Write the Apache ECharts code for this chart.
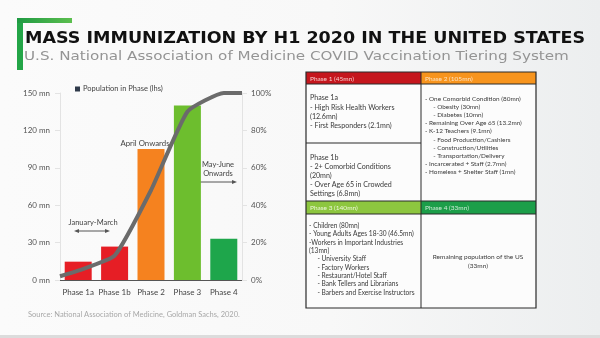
<!DOCTYPE html>
<html><head><meta charset="utf-8">
<script src="https://cdn.jsdelivr.net/npm/echarts@6/dist/echarts.min.js"></script>
<style>html,body{margin:0;padding:0;}#c{width:600px;height:338px;}</style>
</head><body><div id="c"></div>
<script>
// ---- data ----
var categories = ['Phase 1a', 'Phase 1b', 'Phase 2', 'Phase 3', 'Phase 4'];
var population = [14.7, 26.8, 105, 140, 33];          // mn (lhs)
var barColors = ['#e61e25', '#e61e25', '#f5821f', '#6dbe2e', '#1ea64b'];
var cumPos = [0, 0.5, 1.5, 2.5, 3.5, 4.5, 5];          // position along categories
var cumPct = [2, 5, 13, 48, 90, 100, 100];             // cumulative % (rhs)
var leftTicks = [0, 30, 60, 90, 120, 150];
var rightTicks = [0, 20, 40, 60, 80, 100];

var FONT = 'Lato';
var chart = echarts.init(document.getElementById('c'), null, {renderer: 'canvas'});

// table geometry
var tx0 = 306, tx1 = 421, tx2 = 536;
var ty = [72, 84, 143, 201, 214, 308];

function rect(x, y, w, h, fill, stroke, lw) {
  return {type: 'rect', shape: {x: x, y: y, width: w, height: h}, style: {fill: fill, stroke: stroke || null, lineWidth: lw || 0}, silent: true};
}
function txt(x, y, s, size, color, opts) {
  opts = opts || {};
  var o = {type: 'text', x: x, y: y, silent: true, style: {
    text: s, font: (opts.weight || 'normal') + ' ' + size + 'px ' + (opts.family || FONT),
    fill: color, textAlign: opts.align || 'left', textVerticalAlign: opts.valign || 'middle'}};
  if (opts.scaleX) { o.scaleX = opts.scaleX; }
  return o;
}
function lines(x, y0, lh, arr, size, color) {
  return arr.map(function (s, i) { return txt(x, y0 + i * lh, s, size, color); });
}

var cellColor = '#3a3a3a';
var g = [];
// background
g.push({type: 'rect', shape: {x: 0, y: 0, width: 600, height: 338}, silent: true, z: -10,
  style: {fill: new echarts.graphic.LinearGradient(0, 0, 1, 0, [{offset: 0, color: '#fbfbfb'}, {offset: 0.55, color: '#f8f8f8'}, {offset: 1, color: '#eceeef'}])}});
g.push(rect(0, 335, 600, 3, '#dcdcdc'));
// green bracket
g.push(rect(17, 18, 6, 52, '#23a547'));
g.push({type: 'rect', shape: {x: 17, y: 18, width: 55, height: 5}, silent: true,
  style: {fill: new echarts.graphic.LinearGradient(0, 0, 1, 0, [{offset: 0, color: '#1f9a43'}, {offset: 1, color: '#5cbf4f'}])}});
// titles
g.push(txt(25, 38.5, 'MASS IMMUNIZATION BY H1 2020 IN THE UNITED STATES', 15.5, '#111', {weight: 'bold', family: 'DejaVu Sans', scaleX: 1.13}));
g.push(txt(24, 56.5, 'U.S. National Association of Medicine COVID Vaccination Tiering System', 13, '#949494', {family: 'DejaVu Sans', scaleX: 1.165}));
// source
g.push(txt(28, 315, 'Source: National Association of Medicine, Goldman Sachs, 2020.', 7.5, '#a8a8a8'));
// annotations
g.push(txt(145, 143, 'April Onwards', 7.8, '#444', {align: 'center'}));
g.push(txt(218, 165, 'May-June', 7.5, '#444', {align: 'center'}));
g.push(txt(218, 174, 'Onwards', 7.5, '#444', {align: 'center'}));
g.push({type: 'line', shape: {x1: 196, y1: 182, x2: 234, y2: 182}, style: {stroke: '#555', lineWidth: 1}, silent: true});
g.push({type: 'polygon', shape: {points: [[237, 182], [232, 180], [232, 184]]}, style: {fill: '#555'}, silent: true});
g.push(txt(93, 223, 'January-March', 7.5, '#444', {align: 'center'}));
g.push({type: 'line', shape: {x1: 77, y1: 231, x2: 107, y2: 231}, style: {stroke: '#555', lineWidth: 1}, silent: true});
g.push({type: 'polygon', shape: {points: [[74, 231], [79, 229], [79, 233]]}, style: {fill: '#555'}, silent: true});
g.push({type: 'polygon', shape: {points: [[110, 231], [105, 229], [105, 233]]}, style: {fill: '#555'}, silent: true});

// table
g.push(rect(tx0, ty[1], tx2 - tx0, ty[5] - ty[1], '#fcfcfc'));
g.push(rect(tx0, ty[0], tx1 - tx0, ty[1] - ty[0], '#c5161d'));
g.push(rect(tx1, ty[0], tx2 - tx1, ty[1] - ty[0], '#f7941d'));
g.push(rect(tx0, ty[3], tx1 - tx0, ty[4] - ty[3], '#8dc63f'));
g.push(rect(tx1, ty[3], tx2 - tx1, ty[4] - ty[3], '#1c9e49'));
var bc = '#2a2a2a';
g.push({type: 'rect', shape: {x: tx0, y: ty[0], width: tx2 - tx0, height: ty[5] - ty[0]}, style: {fill: null, stroke: bc, lineWidth: 1.2}, silent: true});
g.push({type: 'line', shape: {x1: tx1, y1: ty[0], x2: tx1, y2: ty[5]}, style: {stroke: bc, lineWidth: 1}, silent: true});
g.push({type: 'line', shape: {x1: tx0, y1: ty[2], x2: tx1, y2: ty[2]}, style: {stroke: bc, lineWidth: 1}, silent: true});
g.push({type: 'line', shape: {x1: tx0, y1: ty[3], x2: tx2, y2: ty[3]}, style: {stroke: bc, lineWidth: 1}, silent: true});
g.push({type: 'line', shape: {x1: tx0, y1: ty[4], x2: tx2, y2: ty[4]}, style: {stroke: bc, lineWidth: 1}, silent: true});
g.push({type: 'line', shape: {x1: tx0, y1: ty[1], x2: tx2, y2: ty[1]}, style: {stroke: bc, lineWidth: 1}, silent: true});
// header texts
g.push(txt(310, 78.5, 'Phase 1 (45mn)', 6.5, '#f6cfcf'));
g.push(txt(425, 78.5, 'Phase 2 (105mn)', 6.5, '#fde3c4'));
g.push(txt(310, 207.5, 'Phase 3 (140mn)', 6.5, '#eef7dc'));
g.push(txt(425, 207.5, 'Phase 4 (33mn)', 6.5, '#cdebd6'));
// cell texts
g = g.concat(lines(310, 98, 9.4, ['Phase 1a', '- High Risk Health Workers', '(12.6mn)', '- First Responders (2.1mn)'], 7.1, cellColor));
g = g.concat(lines(310, 158, 9, ['Phase 1b', '- 2+ Comorbid Conditions', '(20mn)', '- Over Age 65 in Crowded', 'Settings (6.8mn)'], 7.1, cellColor));
g = g.concat(lines(425, 99, 8.1, ['- One Comorbid Condition (80mn)', '     - Obesity (30mn)', '     - Diabetes (10mn)', '- Remaining Over Age 65 (13.2mn)', '- K-12 Teachers (9.1mn)', '     - Food Production/Cashiers', '     - Construction/Utilities', '     - Transportation/Delivery', '- Incarcerated + Staff (2.7mn)', '- Homeless + Shelter Staff (1mn)'], 6.4, cellColor));
g = g.concat(lines(309, 226, 8.3, ['- Children (80mn)', '- Young Adults Ages 18-30 (46.5mn)', '-Workers in Important Industries', '(13mn)', '     - University Staff', '     - Factory Workers', '     - Restaurant/Hotel Staff', '     - Bank Tellers and Librarians', '     - Barbers and Exercise Instructors'], 6.6, cellColor));
g.push(txt(478, 257, 'Remaining population of the US', 6.5, cellColor, {align: 'center'}));
g.push(txt(478, 266, '(33mn)', 6.5, cellColor, {align: 'center'}));

var option = {
  animation: false,
  textStyle: {fontFamily: FONT},
  legend: {
    left: 70, top: 80, itemWidth: 5, itemHeight: 5, itemGap: 3,
    textStyle: {fontSize: 7.5, color: '#444', fontFamily: FONT, padding: [0, 0, 0, -2]},
    data: [{name: 'Population in Phase (lhs)', icon: 'rect', itemStyle: {color: '#2f3a4a'}}]
  },
  grid: {left: 60, right: 358, top: 93, bottom: 58},
  xAxis: [
    {type: 'category', data: categories, axisTick: {show: false},
     axisLine: {lineStyle: {color: '#555', width: 1}},
     axisLabel: {interval: 0, fontSize: 8, color: '#444', margin: 8, fontFamily: FONT}},
    {type: 'value', min: 0, max: 5, show: false}
  ],
  yAxis: [
    {type: 'value', min: leftTicks[0], max: leftTicks[leftTicks.length - 1], interval: leftTicks[1] - leftTicks[0],
     splitLine: {show: false}, axisLine: {show: true, lineStyle: {color: '#e3e3e3'}},
     axisLabel: {formatter: '{value} mn', fontSize: 8, color: '#555', margin: 10, fontFamily: FONT}},
    {type: 'value', min: rightTicks[0], max: rightTicks[rightTicks.length - 1], interval: rightTicks[1] - rightTicks[0], position: 'right',
     splitLine: {show: false}, axisLine: {show: true, lineStyle: {color: '#e3e3e3'}},
     axisLabel: {formatter: '{value}%', fontSize: 8, color: '#555', margin: 9, fontFamily: FONT}}
  ],
  series: [
    {name: 'Population in Phase (lhs)', type: 'bar', barWidth: 27,
     data: population.map(function (v, i) { return {value: v, itemStyle: {color: barColors[i]}}; })},
    {name: 'Cumulative', type: 'line', xAxisIndex: 1, yAxisIndex: 1, smooth: 0.15, symbol: 'none',
     lineStyle: {color: '#6b6b6b', width: 4},
     data: cumPos.map(function (p, i) { return [p, cumPct[i]]; })}
  ],
  graphic: g
};
chart.setOption(option);
</script></body></html>
